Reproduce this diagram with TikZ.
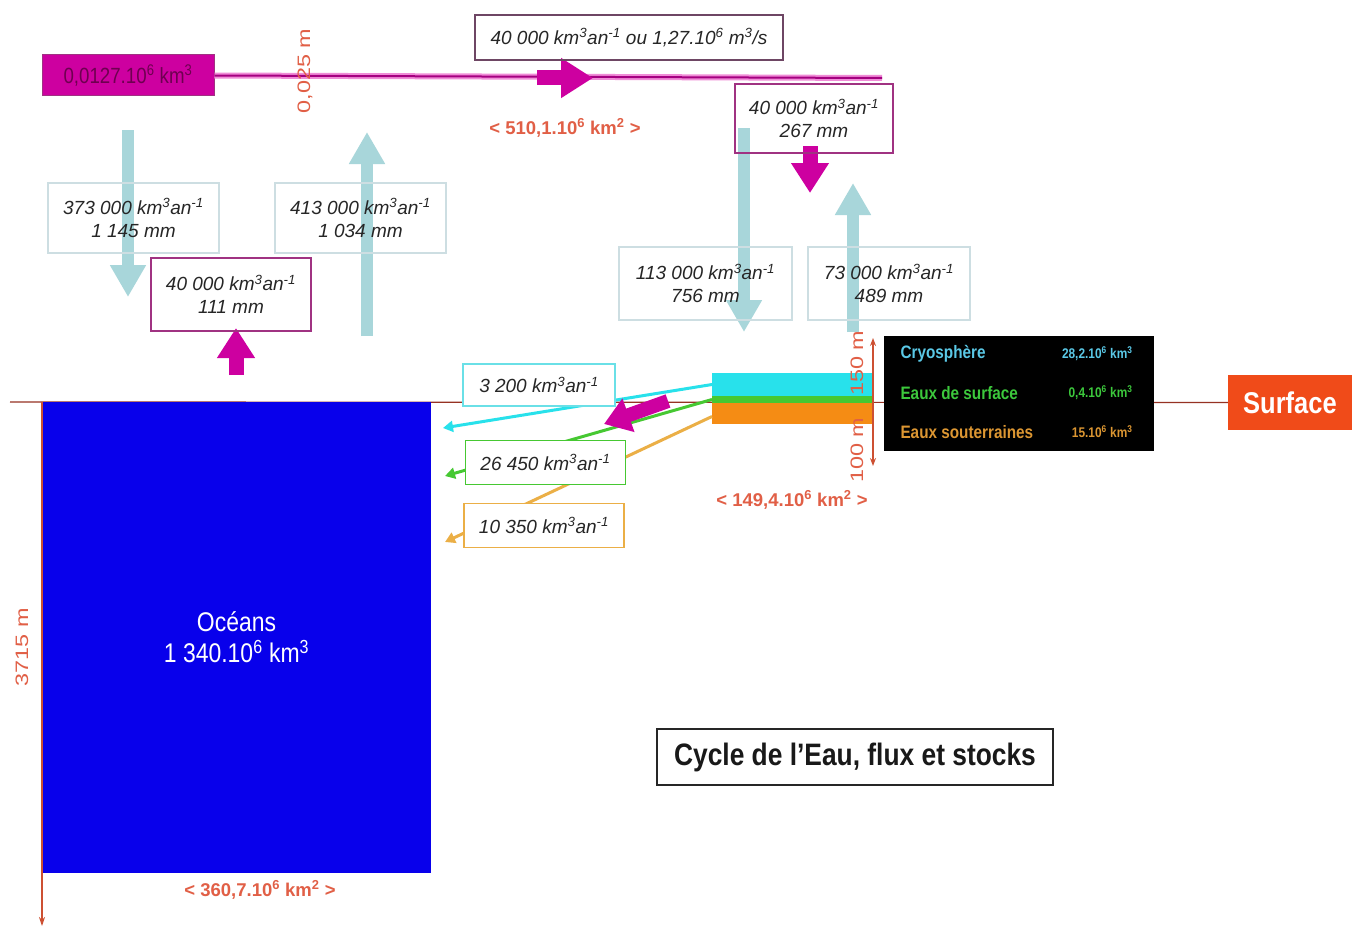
\documentclass[tikz,border=0pt]{standalone}
\usepackage{fontspec}
\setmainfont{Liberation Sans}
\newfontfamily\condf[FakeStretch=0.85]{Liberation Sans}
\usetikzlibrary{arrows.meta}
\definecolor{magc}{RGB}{205,0,160}
\definecolor{pinkl}{RGB}{240,140,215}
\definecolor{lblue}{RGB}{168,214,218}
\definecolor{lbborder}{RGB}{205,222,226}
\definecolor{magborder}{RGB}{160,50,130}
\definecolor{topborder}{RGB}{110,70,100}
\definecolor{oceanc}{RGB}{8,0,235}
\definecolor{redlab}{RGB}{225,95,70}
\definecolor{brownc}{RGB}{150,50,35}
\definecolor{depthc}{RGB}{205,80,50}
\definecolor{cyanc}{RGB}{40,225,235}
\definecolor{greenc}{RGB}{70,200,50}
\definecolor{orangec}{RGB}{245,140,20}
\definecolor{orangel}{RGB}{235,175,70}
\definecolor{surfc}{RGB}{240,75,25}
\definecolor{legcyan}{RGB}{90,200,230}
\definecolor{leggreen}{RGB}{60,200,60}
\definecolor{legorange}{RGB}{220,150,50}
\definecolor{atmtext}{RGB}{110,0,80}
\tikzset{
  fluxfont/.style={font=\fontsize{19}{23}\selectfont\itshape, align=center, text=black!85},
  lbbox/.style={fluxfont, draw=lbborder, line width=1.2pt, minimum width=171pt, minimum height=70pt, inner sep=0pt},
  magbox/.style={fluxfont, draw=magborder, line width=1.5pt, minimum width=160pt, minimum height=72pt, inner sep=0pt},
  contbox/.style={fluxfont, fill=white, line width=1.5pt, minimum width=160pt, minimum height=44pt, inner sep=0pt},
  lbarrow/.style={lblue, line width=12pt, -{Triangle[width=34pt,length=32pt]}},
  magarrow/.style={magc, line width=15pt, -{Triangle[width=36pt,length=30pt]}},
  redlabel/.style={text=redlab, font=\fontsize{18.5}{20}\selectfont\bfseries},
  vlabel/.style={text=redlab, font=\fontsize{18}{20}\selectfont, rotate=90},
  stack/.style={inner sep=0pt, outer sep=0pt, minimum width=161pt},
  legl/.style={font=\fontsize{18}{20}\selectfont\bfseries\condf, anchor=west},
  legr/.style={font=\fontsize{14}{16}\selectfont\bfseries\condf, anchor=east},
}
\newcommand{\stretchv}[1]{\scalebox{1.3}[1]{#1}}
\begin{document}
\begin{tikzpicture}[x=1pt,y=-1pt]
\useasboundingbox (0,0) rectangle (1358,934);
\fill[white] (0,0) rectangle (1358,934);

% surface line
\node[fill=surfc, text=white, font=\fontsize{30}{32}\selectfont\bfseries\condf, minimum width=124pt, minimum height=55pt, inner sep=0pt] (surfacebox) at (1290,402.5) {Surface};
\coordinate (surfleft) at (10,402);
\draw[brownc, line width=1.2pt] (surfleft) -- (surfacebox.west);

% ocean
\node[fill=oceanc, minimum width=389pt, minimum height=471pt, inner sep=0pt, outer sep=0pt, text=white, font=\fontsize{27}{31}\selectfont\condf, align=center] (ocean) at (236.5,637.5) {Océans\\1 340.10\textsuperscript{6} km\textsuperscript{3}};
\coordinate (depthend) at (42,926);
\draw[depthc, line width=1.3pt, -{Stealth[length=9pt,width=6pt]}] (ocean.north west) -- (depthend);
\node[vlabel] (depthlab) at (22,647) {\stretchv{3715 m}};
\node[redlabel] (oceanarea) at (260,890) {< 360,7.10\textsuperscript{6} km\textsuperscript{2} >};

% atmosphere
\node[fill=magc, draw=magborder, line width=1pt, minimum width=172pt, minimum height=41pt, inner sep=0pt, text=atmtext, font=\fontsize{22}{24}\selectfont\condf] (atm) at (128,75.5) {0,0127.10\textsuperscript{6} km\textsuperscript{3}};
\coordinate (atmend) at (882,78);
\draw[pinkl, line width=6pt] (atm.east) -- (atmend);
\draw[magc!80!black, line width=2pt] (atm.east) -- (atmend);
\node[vlabel] (atmh) at (305,71) {\stretchv{0,025 m}};
\node[redlabel] (landarea0) at (565,128) {< 510,1.10\textsuperscript{6} km\textsuperscript{2} >};

% light blue arrows (behind boxes)
\coordinate (a1s) at (128,130); \coordinate (a1e) at (128,297);
\coordinate (a2s) at (367,336); \coordinate (a2e) at (367,132);
\coordinate (a3s) at (744,128); \coordinate (a3e) at (744,332);
\coordinate (a4s) at (853,332); \coordinate (a4e) at (853,183);
\draw[lbarrow] (a1s) -- (a1e);
\draw[lbarrow] (a2s) -- (a2e);
\draw[lbarrow] (a3s) -- (a3e);
\draw[lbarrow] (a4s) -- (a4e);

% magenta fat arrows
\coordinate (m1s) at (537,78); \coordinate (m1e) at (593,78);
\draw[magarrow, -{Triangle[width=38pt,length=32pt]}] (m1s) -- (m1e);
\coordinate (m2s) at (810,146); \coordinate (m2e) at (810,193);
\draw[magarrow] (m2s) -- (m2e);
\coordinate (m3s) at (236,375); \coordinate (m3e) at (236,328);
\draw[magarrow] (m3s) -- (m3e);

% flux boxes
\node[fluxfont, draw=topborder, line width=1.5pt, minimum width=308pt, minimum height=45pt, inner sep=0pt] (top) at (629,37.5) {40 000 km\textsuperscript{3}an\textsuperscript{-1} ou 1,27.10\textsuperscript{6} m\textsuperscript{3}/s};
\node[magbox, minimum width=158pt, minimum height=69pt] (p1) at (814,118.5) {40 000 km\textsuperscript{3}an\textsuperscript{-1}\\267 mm};
\node[lbbox] (e1) at (133.5,218) {373 000 km\textsuperscript{3}an\textsuperscript{-1}\\1 145 mm};
\node[lbbox] (e2) at (360.5,218) {413 000 km\textsuperscript{3}an\textsuperscript{-1}\\1 034 mm};
\node[magbox, minimum height=73pt] (p2) at (231,294.5) {40 000 km\textsuperscript{3}an\textsuperscript{-1}\\111 mm};
\node[lbbox, minimum width=173pt, minimum height=73pt] (e3) at (705.5,283.5) {113 000 km\textsuperscript{3}an\textsuperscript{-1}\\756 mm};
\node[lbbox, minimum width=162pt, minimum height=73pt] (e4) at (889,283.5) {73 000 km\textsuperscript{3}an\textsuperscript{-1}\\489 mm};

% continental stack
\node[stack, fill=cyanc, minimum height=23pt] (cryo) at (792.5,384.5) {};
\node[stack, fill=greenc, minimum height=7pt] (surf) at (792.5,399.5) {};
\node[stack, fill=orangec, minimum height=21pt] (sout) at (792.5,413.5) {};

% runoff arrows
\coordinate (c1e) at (443,428);
\coordinate (c2e) at (445,476);
\coordinate (c3e) at (445,542);
\draw[cyanc, line width=3pt, -{Triangle[width=11pt,length=10pt]}] (cryo.west) -- (c1e);
\draw[greenc, line width=3pt, -{Triangle[width=11pt,length=10pt]}] (surf.west) -- (c2e);
\draw[orangel, line width=3pt, -{Triangle[width=11pt,length=10pt]}] ([yshift=-3pt]sout.west) -- (c3e);
\coordinate (m4s) at (668,401); \coordinate (m4e) at (604,424);
\draw[magarrow, line width=14pt, -{Triangle[width=34pt,length=26pt]}] (m4s) -- (m4e);

\node[contbox, draw=cyanc!60!lbborder, minimum width=152pt, minimum height=42pt] (f1) at (539,385) {3 200 km\textsuperscript{3}an\textsuperscript{-1}};
\node[contbox, draw=greenc] (f2) at (545.5,462.5) {26 450 km\textsuperscript{3}an\textsuperscript{-1}};
\node[contbox, draw=orangel] (f3) at (544,525.5) {10 350 km\textsuperscript{3}an\textsuperscript{-1}};

% thickness arrows
\coordinate (thtop) at (873,338); \coordinate (thmid) at (873,402); \coordinate (thbot) at (873,466);
\draw[depthc, line width=1.2pt, -{Stealth[length=8pt,width=6pt]}] (thmid) -- (thtop);
\draw[depthc, line width=1.2pt, -{Stealth[length=8pt,width=6pt]}] (thmid) -- (thbot);
\node[vlabel] (h150) at (857,363) {\stretchv{150 m}};
\node[vlabel] (h100) at (857,450) {\stretchv{100 m}};
\node[redlabel] (landarea) at (792,500) {< 149,4.10\textsuperscript{6} km\textsuperscript{2} >};

% legend box
\node[fill=black, minimum width=270pt, minimum height=115pt, inner sep=0pt] (leg) at (1019,393.5) {};
\node[legl, text=legcyan] (l1) at (897,354) {Cryosphère};
\node[legr, text=legcyan] (r1) at (1136,354) {28,2.10\textsuperscript{6} km\textsuperscript{3}};
\node[legl, text=leggreen] (l2) at (897,393) {Eaux de surface};
\node[legr, text=leggreen] (r2) at (1136,393) {0,4.10\textsuperscript{6} km\textsuperscript{3}};
\node[legl, text=legorange] (l3) at (897,432) {Eaux souterraines};
\node[legr, text=legorange] (r3) at (1136,432) {15.10\textsuperscript{6} km\textsuperscript{3}};

% title
\node[draw=black!85, line width=1.6pt, minimum width=396pt, minimum height=56pt, inner sep=0pt, font=\fontsize{31}{34}\selectfont\bfseries\condf, text=black!90] (title) at (855,757) {Cycle de l’Eau, flux et stocks};
\end{tikzpicture}
\end{document}
